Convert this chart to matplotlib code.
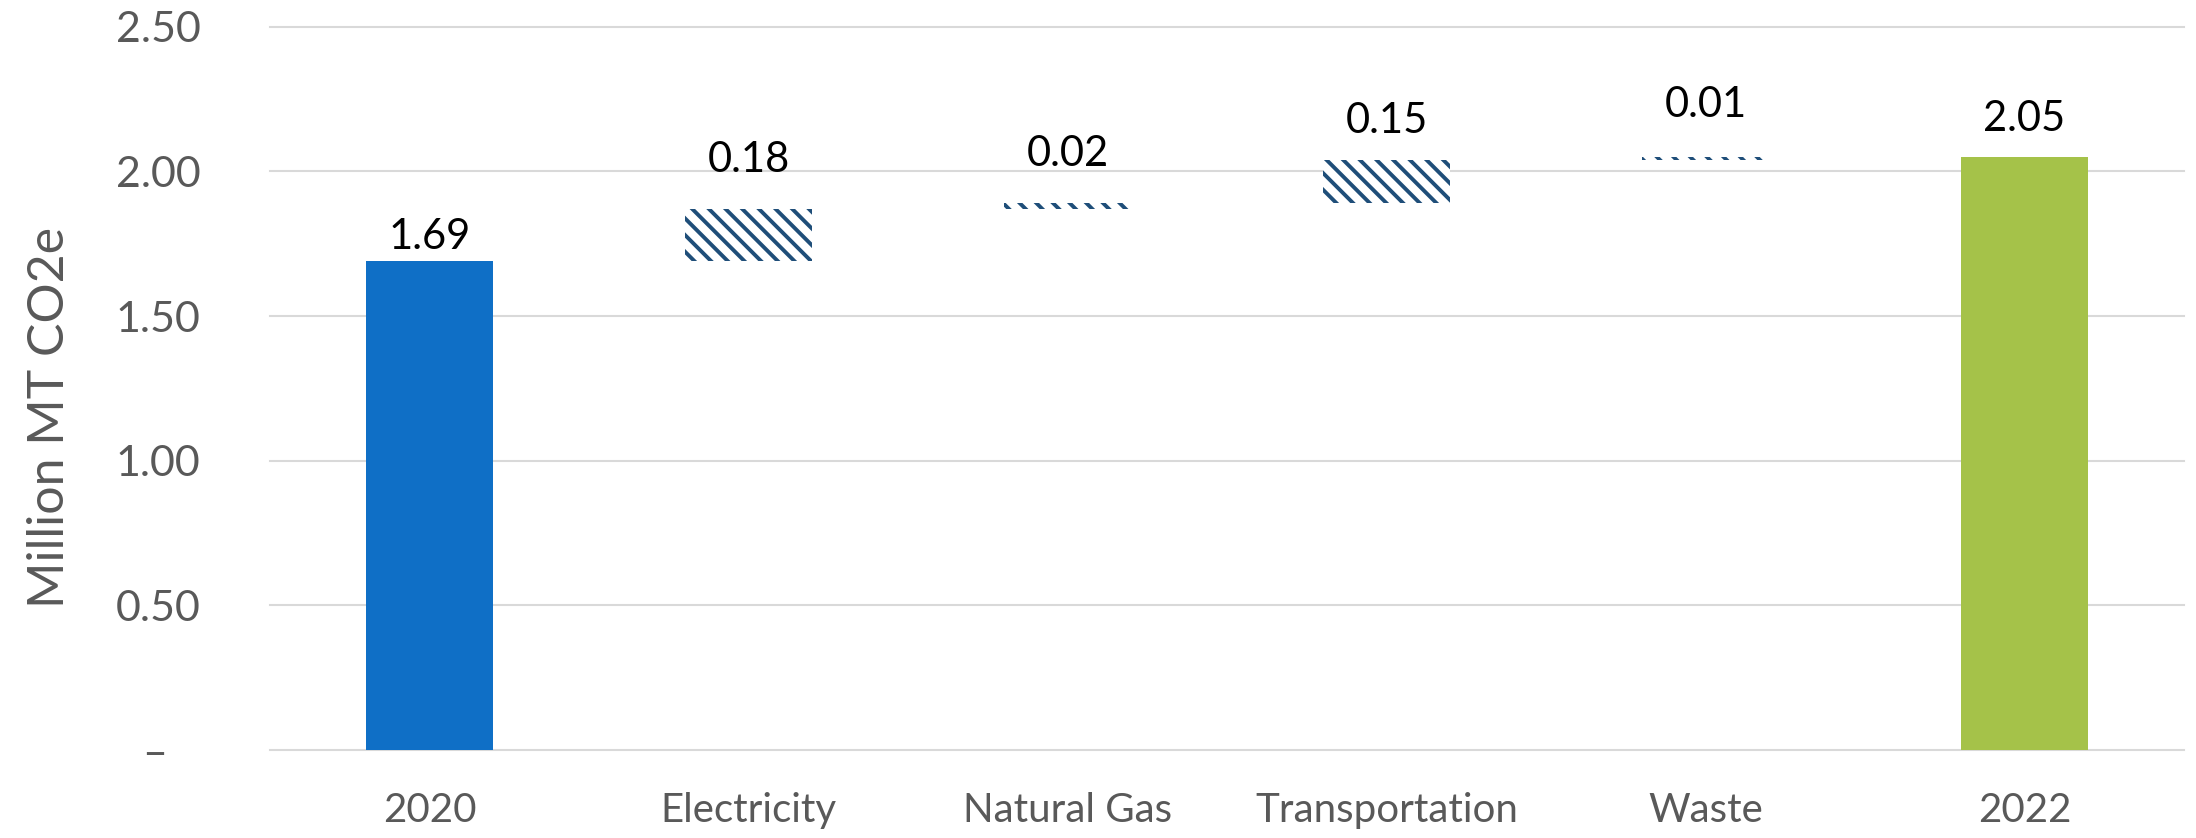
import numpy as np
import matplotlib
matplotlib.use('Agg')
import matplotlib.pyplot as plt

# donnees du graphique (Million MT CO2e)
categories = ['2020', 'Electricity', 'Natural Gas', 'Transportation', 'Waste', '2022']
changes = [1.69, 0.18, 0.02, 0.15, 0.01, 2.05]
is_total = [True, False, False, False, False, True]
value_labels = ['1.69', '0.18', '0.02', '0.15', '0.01', '2.05']
ytick_values = [0, 0.5, 1.0, 1.5, 2.0, 2.5]
ytick_labels = ['–   ', '0.50', '1.00', '1.50', '2.00', '2.50']

# decalage des etiquettes au-dessus des barres (points)
label_offsets = [4, 22, 22, 14, 24, 14]

blue = '#0F6FC6'
green = '#A5C249'
navy = '#1F4E79'
grey_txt = '#595959'

plt.rcParams['font.family'] = ['Lato', 'DejaVu Sans']
plt.rcParams['hatch.linewidth'] = 2.8

fig = plt.figure(figsize=(21.96, 8.38), dpi=100)
ax = fig.add_axes([0.123, 0.105, 0.8715, 0.863])

x = np.arange(len(categories))
bottoms = []
running = 0.0
for i, v in enumerate(changes):
    if is_total[i]:
        bottoms.append(0.0)
        running = v
    else:
        bottoms.append(running)
        running += v

for i, v in enumerate(changes):
    if is_total[i]:
        color = blue if i == 0 else green
        ax.bar(x[i], v, width=0.4, bottom=bottoms[i], color=color, linewidth=0, zorder=3)
    else:
        ax.bar(x[i], v, width=0.4, bottom=bottoms[i], facecolor='white',
               edgecolor=navy, hatch='\\\\', linewidth=0, zorder=3)
    top = bottoms[i] + v
    ax.annotate(value_labels[i], (x[i], top), xytext=(0, label_offsets[i]),
                textcoords='offset points', ha='center', va='bottom',
                fontsize=30, color='black')

ax.set_xlim(-0.5, len(categories) - 0.5)
ax.set_ylim(0, 2.5)
ax.set_yticks(ytick_values)
ax.set_yticklabels(ytick_labels)
ax.set_xticks(x)
ax.set_xticklabels(categories)
ax.tick_params(axis='y', length=0, pad=50, labelsize=31, labelcolor=grey_txt)
ax.tick_params(axis='x', length=0, pad=30, labelsize=29, labelcolor=grey_txt)

ax.yaxis.grid(True, color='#D9D9D9', linewidth=1.5)
ax.set_axisbelow(True)
for s in ax.spines.values():
    s.set_visible(False)
for gl in ax.get_ygridlines():
    gl.set_clip_on(False)

ax.set_ylabel('Million MT CO2e', fontsize=36, color=grey_txt)
ax.yaxis.set_label_coords(-0.103, 0.46)

fig.savefig('out.png', dpi=100)
